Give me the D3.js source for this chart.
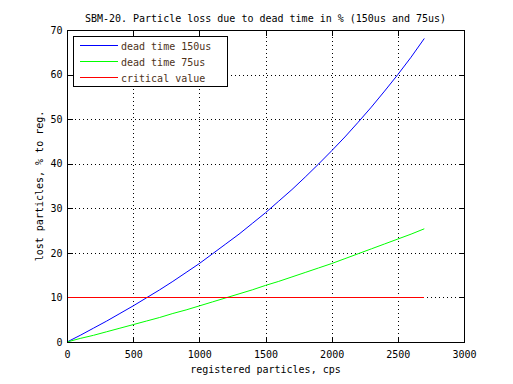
<!DOCTYPE html>
<html><head><meta charset="utf-8">
<script src="https://cdn.jsdelivr.net/npm/d3@7"></script>
<style>html,body{margin:0;padding:0;background:#fff;}svg{display:block;}</style>
</head><body>
<script>
const xValues = [0,100,200,300,400,500,600,700,800,900,1000,1100,1200,1300,1400,1500,1600,1700,1800,1900,2000,2100,2200,2300,2400,2500,2600,2700];
const loss150 = [0,1.5,3.1,4.7,6.4,8.1,9.9,11.7,13.6,15.6,17.6,19.8,22.0,24.2,26.6,29.0,31.6,34.2,37.0,39.9,42.9,46.0,49.3,52.7,56.3,60.0,63.9,68.1];
const loss75 = [0,0.8,1.5,2.3,3.1,3.9,4.7,5.5,6.4,7.2,8.1,9.0,9.9,10.8,11.7,12.7,13.6,14.6,15.6,16.6,17.6,18.7,19.8,20.9,22.0,23.1,24.2,25.4];
const criticalX = [0,2700];
const criticalY = [10,10];
const xTicks = [0,500,1000,1500,2000,2500,3000];
const yTicks = [0,10,20,30,40,50,60,70];
const seriesNames = ["dead time 150us","dead time 75us","critical value"];
const seriesColors = ["#0000ff","#00ff00","#ff0000"];
const titleText = "SBM-20. Particle loss due to dead time in % (150us and 75us)";
const xLabel = "registered particles, cps";
const yLabel = "lost particles, % to reg.";

const W = 513, H = 384;
const L = 67, R = 464, T = 30, B = 342;
const font = "'DejaVu Sans Mono', monospace";
const svg = d3.select("body").append("svg").attr("width", W).attr("height", H)
  .style("font-family", font).style("font-size", "10px");

const x = d3.scaleLinear().domain([0,3000]).range([L,R]);
const y = d3.scaleLinear().domain([0,70]).range([B,T]);

// grid
const grid = svg.append("g").attr("stroke","#000").attr("stroke-width",1).attr("stroke-dasharray","1,3").attr("shape-rendering","crispEdges");
xTicks.slice(1,-1).forEach(t => grid.append("line").attr("x1",Math.round(x(t))+0.5).attr("x2",Math.round(x(t))+0.5).attr("y1",B).attr("y2",T));
yTicks.slice(1,-1).forEach(t => grid.append("line").attr("y1",Math.round(y(t))+0.5).attr("y2",Math.round(y(t))+0.5).attr("x1",L).attr("x2",R));

// axes
const tl = 5;
const axB = svg.append("g").attr("transform",`translate(0,${B+0.5})`)
  .call(d3.axisBottom(x).tickValues(xTicks).tickSize(-tl).tickPadding(8).tickFormat(d3.format("d")));
const axT = svg.append("g").attr("transform",`translate(0,${T+0.5})`)
  .call(d3.axisTop(x).tickValues(xTicks).tickSize(-tl).tickFormat(""));
const axL = svg.append("g").attr("transform",`translate(${L+0.5},0)`)
  .call(d3.axisLeft(y).tickValues(yTicks).tickSize(-tl).tickPadding(5).tickFormat(d3.format("d")));
const axR = svg.append("g").attr("transform",`translate(${R+0.5},0)`)
  .call(d3.axisRight(y).tickValues(yTicks).tickSize(-tl).tickFormat(""));
[axB,axT,axL,axR].forEach(a => {
  a.attr("font-family",font).attr("font-size","10px").attr("shape-rendering","crispEdges");
  a.select(".domain").remove();
  a.selectAll("line").attr("stroke","#000");
  a.selectAll("text").attr("fill","#000");
});
axB.selectAll(".tick text").attr("dy","0.71em");

// lines
const line = d3.line().x(d => x(d[0])).y(d => y(d[1]));
const gl = svg.append("g").attr("fill","none").attr("stroke-width",1);
gl.append("path").attr("d", line(xValues.map((v,i)=>[v,loss150[i]]))).attr("stroke",seriesColors[0]);
gl.append("path").attr("d", line(xValues.map((v,i)=>[v,loss75[i]]))).attr("stroke",seriesColors[1]);
gl.append("path").attr("d", line(criticalX.map((v,i)=>[v,criticalY[i]]))).attr("stroke",seriesColors[2]).attr("shape-rendering","crispEdges");

// box
svg.append("rect").attr("x",L+0.5).attr("y",T+0.5).attr("width",R-L).attr("height",B-T)
  .attr("fill","none").attr("stroke","#000").attr("shape-rendering","crispEdges");

// legend
const lg = svg.append("g");
lg.append("rect").attr("x",73.5).attr("y",36.5).attr("width",154).attr("height",50)
  .attr("fill","#fff").attr("stroke","#000").attr("shape-rendering","crispEdges");
seriesNames.forEach((n,i) => {
  const yy = 45.5 + i*16;
  lg.append("line").attr("x1",80).attr("x2",118).attr("y1",yy).attr("y2",yy)
    .attr("stroke",seriesColors[i]).attr("shape-rendering","crispEdges");
  lg.append("text").attr("x",121).attr("y",yy+4).attr("fill","#4d3219").text(n);
});

// title & labels
svg.append("text").attr("x",(L+R)/2).attr("y",22).attr("text-anchor","middle").attr("fill","#000").text(titleText);
svg.append("text").attr("x",(L+R)/2).attr("y",373).attr("text-anchor","middle").attr("fill","#000").text(xLabel);
svg.append("text").attr("transform",`translate(43,${(T+B)/2}) rotate(-90)`).attr("text-anchor","middle").attr("fill","#000").text(yLabel);
</script>
</body></html>
